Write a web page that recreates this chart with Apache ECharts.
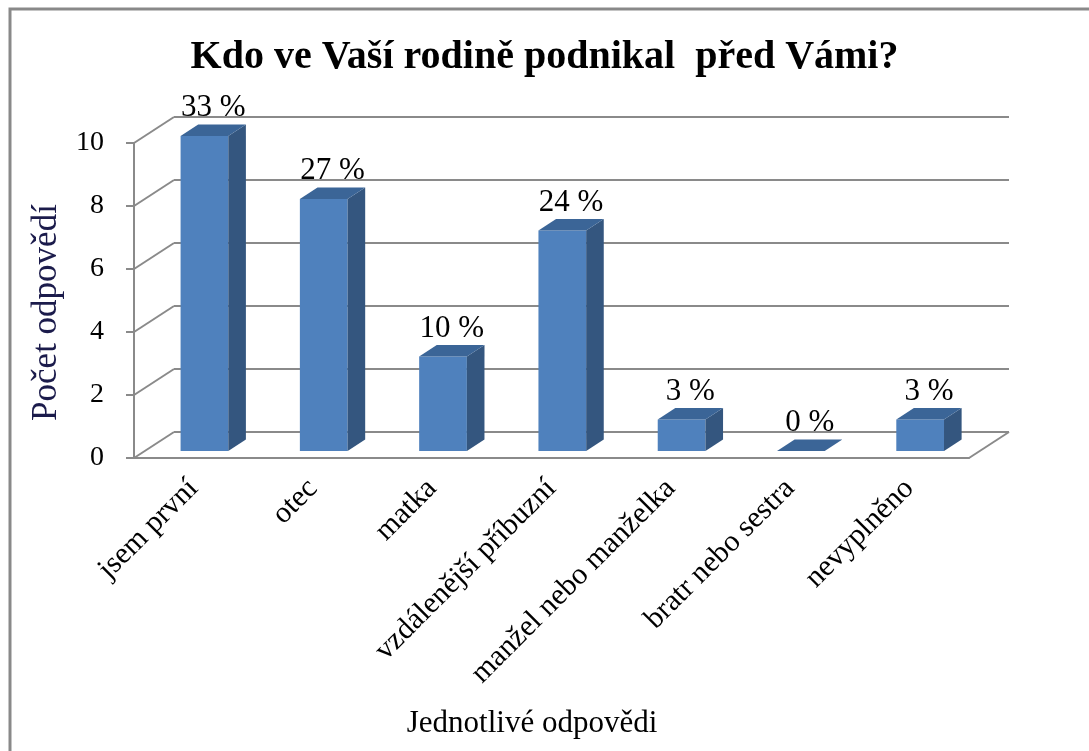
<!DOCTYPE html>
<html>
<head>
<meta charset="utf-8">
<script src="https://cdn.jsdelivr.net/npm/echarts@6/dist/echarts.min.js"></script>
<style>
  html, body { margin: 0; padding: 0; background: #fff; }
  #chart { width: 1089px; height: 751px; }
</style>
</head>
<body>
<div id="chart"></div>
<script>
// data
const categories = ["jsem první", "otec", "matka", "vzdálenější příbuzní", "manžel nebo manželka", "bratr nebo sestra", "nevyplněno"];
const counts = [10, 8, 3, 7, 1, 0, 1];
const percentLabels = ["33 %", "27 %", "10 %", "24 %", "3 %", "0 %", "3 %"];
const yTicks = [0, 2, 4, 6, 8, 10];

// 3d look: depth of the box (px) and where the bars sit inside it
const DX = 40, DY = -26;
const T1 = 0.27, T2 = 0.71;
const FONT = "Liberation Serif";
const GRID_COLOR = "#8a8a8a";

var myChart = echarts.init(document.getElementById("chart"));

// back wall, left wall and floor lines
function renderWalls(params, api) {
  const cs = params.coordSys;
  const x0 = cs.x, x1 = cs.x + cs.width;
  const children = [];
  const lineStyle = { stroke: GRID_COLOR, lineWidth: 2 };
  yTicks.forEach((v) => {
    const yf = api.coord([0, v])[1];
    children.push({ type: "line", shape: { x1: x0, y1: yf, x2: x0 + DX, y2: yf + DY }, style: lineStyle });
    children.push({ type: "line", shape: { x1: x0 + DX, y1: yf + DY, x2: x1 + DX, y2: yf + DY }, style: lineStyle });
  });
  const y0 = api.coord([0, 0])[1];
  children.push({ type: "line", shape: { x1: x1, y1: y0, x2: x1 + DX, y2: y0 + DY }, style: lineStyle });
  return { type: "group", children: children };
}

// bars as boxes: front face, side, top and the % label
function renderBar(params, api) {
  const i = api.value(0);
  const v = api.value(1);
  const base = api.coord([i, 0]);
  const top = api.coord([i, v]);
  const w = api.size([1, 0])[0] * 0.4;
  const fx = base[0] + T1 * DX - w / 2;
  const fy0 = base[1] + T1 * DY;
  const fy1 = top[1] + T1 * DY;
  const bdx = (T2 - T1) * DX;
  const bdy = (T2 - T1) * DY;
  return {
    type: "group",
    children: [
      {
        type: "rect",
        shape: { x: fx, y: fy1, width: w, height: fy0 - fy1 },
        style: { fill: "#4F81BD" },
      },
      {
        type: "polygon",
        shape: { points: [[fx + w, fy1], [fx + w + bdx, fy1 + bdy], [fx + w + bdx, fy0 + bdy], [fx + w, fy0]] },
        style: { fill: "#34567F" },
      },
      {
        type: "polygon",
        shape: { points: [[fx, fy1], [fx + bdx, fy1 + bdy], [fx + w + bdx, fy1 + bdy], [fx + w, fy1]] },
        style: { fill: "#3B6597" },
      },
      {
        type: "text",
        style: {
          text: percentLabels[i],
          x: fx + w / 2 + bdx / 2,
          y: fy1 + bdy - 1,
          align: "center",
          verticalAlign: "bottom",
          font: "31px " + FONT,
          fill: "#000",
        },
      },
    ],
  };
}

var option = {
  backgroundColor: "#fff",
  textStyle: { fontFamily: FONT },
  title: {
    text: "Kdo ve Vaší rodině podnikal  před Vámi?",
    left: "center",
    top: 33,
    textStyle: { fontFamily: FONT, fontSize: 40, fontWeight: "bold", color: "#000" },
  },
  graphic: [
    {
      type: "rect",
      shape: { x: 10, y: 9, width: 1200, height: 900 },
      style: { fill: null, stroke: "#898989", lineWidth: 3 },
      silent: true,
    },
  ],
  grid: { left: 134, right: 120, top: 143, bottom: 293 },
  xAxis: {
    type: "category",
    data: categories,
    boundaryGap: true,
    name: "Jednotlivé odpovědi",
    nameLocation: "middle",
    nameGap: 250,
    nameTextStyle: { fontFamily: FONT, fontSize: 31, color: "#000", padding: [0, 39, 0, 0] },
    axisLine: { lineStyle: { color: GRID_COLOR, width: 2 } },
    axisTick: { length: 10, lineStyle: { color: GRID_COLOR, width: 2 } },
    axisLabel: { rotate: 45, margin: 26, fontFamily: FONT, fontSize: 30, color: "#000", interval: 0 },
  },
  yAxis: {
    type: "value",
    min: 0,
    max: 10,
    interval: 2,
    name: "Počet odpovědí",
    nameLocation: "middle",
    nameRotate: 90,
    nameGap: 70,
    nameTextStyle: { fontFamily: FONT, fontSize: 35, color: "#1b1b4b", padding: [0, 24, 0, 0] },
    axisLine: { show: true, lineStyle: { color: GRID_COLOR, width: 2 } },
    axisTick: { show: true, length: 8, lineStyle: { color: GRID_COLOR, width: 2 } },
    axisLabel: { margin: 30, fontFamily: FONT, fontSize: 28, color: "#000" },
    splitLine: { show: false },
  },
  series: [
    {
      name: "walls",
      type: "custom",
      renderItem: renderWalls,
      data: [[0, 0]],
      clip: false,
      silent: true,
      z: 1,
    },
    {
      name: "Počet",
      type: "custom",
      renderItem: renderBar,
      encode: { x: 0, y: 1 },
      data: counts.map((v, i) => [i, v]),
      clip: false,
      z: 2,
    },
  ],
};

option && myChart.setOption(option);
window.addEventListener("resize", function () {
  myChart.resize();
});
</script>
</body>
</html>
